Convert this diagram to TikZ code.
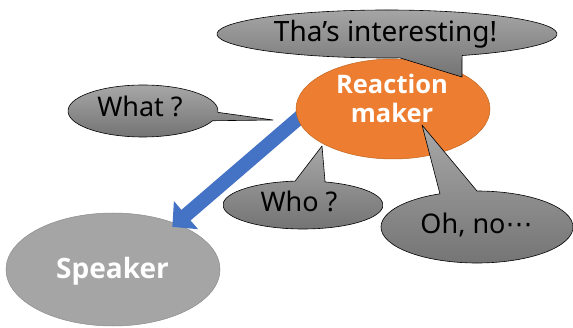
\documentclass[tikz,border=0pt]{standalone}
\usepackage{fontspec}
\setmainfont{Noto Sans}
\newfontfamily\boldsans{Open Sans}
\newfontfamily\dejavu{DejaVu Sans}
\usetikzlibrary{shapes.geometric, arrows.meta}
\pgfdeclarelayer{bglayer}
\pgfdeclarelayer{arrowlayer}
\pgfsetlayers{bglayer,arrowlayer,main}
\definecolor{rmorange}{HTML}{ED7D31}
\definecolor{rmedge}{HTML}{C0661F}
\definecolor{spgray}{HTML}{A5A5A5}
\definecolor{spedge}{HTML}{8C8C8C}
\definecolor{arrowblue}{HTML}{4472C4}
\definecolor{bubtop}{HTML}{A8A8A8}
\definecolor{bubbot}{HTML}{737373}
\begin{document}
\begin{tikzpicture}[x=1pt,y=1pt,
  bubble/.style={top color=bubtop, bottom color=bubbot, draw=black, line width=0.6pt, line join=round},
  bubtext/.style={font=\fontsize{27}{30}\selectfont, text=black, inner sep=0pt, anchor=base},
  bigtext/.style={font=\boldsans\bfseries\fontsize{25.5}{29}\selectfont, text=white, inner sep=0pt, align=center},
  blob/.style={ellipse, inner sep=0pt, line width=0.5pt}
  ]
\useasboundingbox (0,0) rectangle (573,327);
\begin{pgfonlayer}{bglayer}
\node[blob, fill=spgray, draw=spedge, minimum width=214pt, minimum height=113pt] (sp) at (113,57.5) {};
\end{pgfonlayer}
\node[bigtext, anchor=base, font=\boldsans\bfseries\fontsize{28}{30}\selectfont] (sptext) at (112.5,49) {Speaker};
\node[blob, fill=rmorange, draw=rmedge, minimum width=194pt, minimum height=100pt] (rm) at (393,218) {};
\node[bigtext] (rmtext) at (392,229) {Reaction\\maker};
\begin{pgfonlayer}{arrowlayer}
\draw[arrowblue, line width=14pt, shorten <=-8pt, shorten >=-5pt, -{Triangle[length=18pt,width=36pt]}] (rm.186) -- (sp.36);
\end{pgfonlayer}
% Tha's interesting bubble
\shadedraw[bubble] (462,250) -- ([shift={(387,293)}]-63.8:170pt and 24pt) arc[start angle=-63.8, end angle=274.4, x radius=170pt, y radius=24pt] -- cycle;
\node[bubtext, font=\fontsize{28}{30}\selectfont] (tha) at (385.5,285) {Tha’s interesting!};
% What bubble
\shadedraw[bubble] (273,207) -- ([shift={(143,216)}]-3:75pt and 26pt) arc[start angle=-3, end angle=338, x radius=75pt, y radius=26pt] -- cycle;
\node[bubtext] (what) at (140,210) {What ?};
% Who bubble
\shadedraw[bubble] (322,181) -- ([shift={(303,122)}]95.7:80pt and 24pt) arc[start angle=95.7, end angle=434, x radius=80pt, y radius=24pt] -- cycle;
\node[bubtext] (who) at (299,116) {Who ?};
% Oh no bubble
\shadedraw[bubble] (422,202) -- ([shift={(477,100)}]112.7:96pt and 36pt) arc[start angle=112.7, end angle=450, x radius=96pt, y radius=36pt] -- cycle;
\node[bubtext] (ohno) at (476.5,94) {Oh, no{\dejavu ⋯}};
\end{tikzpicture}
\end{document}
